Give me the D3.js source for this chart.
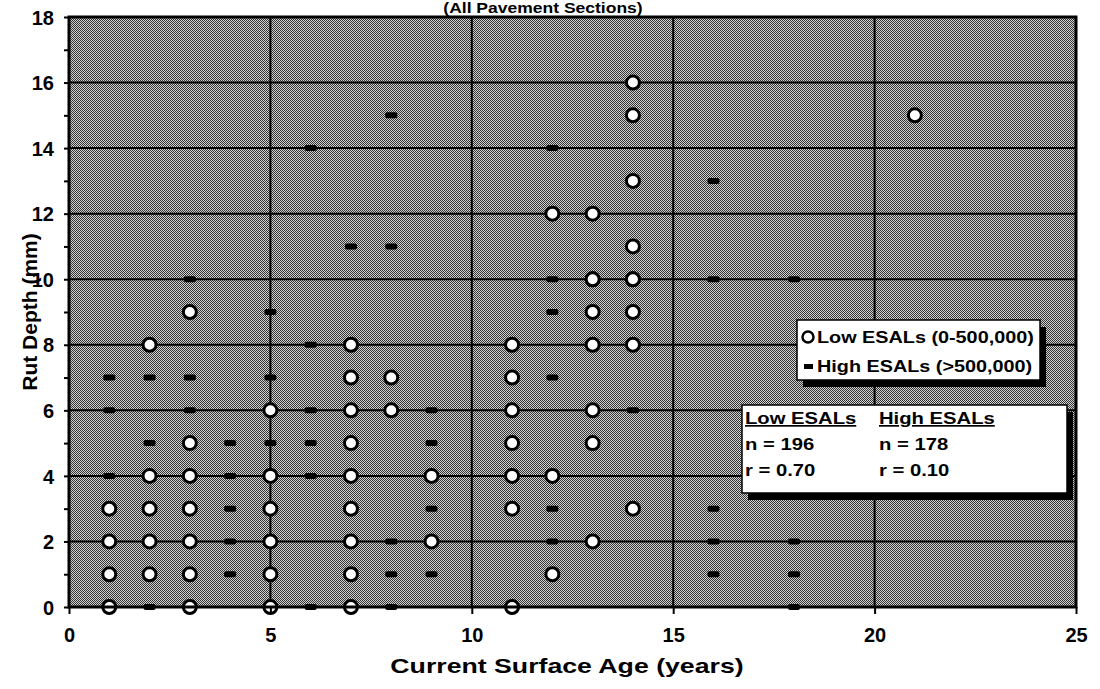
<!DOCTYPE html>
<html><head><meta charset="utf-8">
<script src="https://cdn.jsdelivr.net/npm/d3@7"></script>
<style>body{margin:0;background:#fff}svg{display:block}text{font-family:"Liberation Sans",Arial,sans-serif;font-weight:bold;fill:#000}</style>
</head><body><svg id="c" width="1100" height="689"></svg>
<script>
// Data (Age in years, Rut depth in mm)
const lowAge = [1,1,1,1, 2,2,2,2,2, 3,3,3,3,3,3,3, 5,5,5,5,5,5, 7,7,7,7,7,7,7,7,7, 8,8, 9,9, 11,11,11,11,11,11,11, 12,12,12, 13,13,13,13,13,13,13,13, 14,14,14,14,14,14,14,14,14, 21];
const lowRut = [0,1,2,3, 1,2,3,4,8, 0,1,2,3,4,5,9, 0,1,2,3,4,6, 0,1,2,3,4,5,6,7,8, 6,7, 2,4, 0,3,4,5,6,7,8, 1,4,12, 2,5,6,8,9,10,12,10, 3,8,9,10,11,13,15,16,10, 15];
const highAge = [1,1,1, 2,2,2, 3,3,3, 4,4,4,4,4, 5,5,5, 6,6,6,6,6, 7,8,8,8,8, 9,9,9,9, 12,12,12,12,12,12, 14, 16,16,16,16,16, 18,18,18,18, 3,8,2,6];
const highRut = [7,6,4, 7,5,0, 7,6,10, 5,4,3,2,1, 9,7,5, 8,6,5,14,0, 11,15,11,2,1, 6,5,3,1, 14,10,9,7,3,2, 6, 13,10,3,2,1, 10,2,1,0, 4,0,8,4];
const xTicks = [0,5,10,15,20,25];
const yTicks = [0,2,4,6,8,10,12,14,16,18];
const titleText = "(All Pavement Sections)";
const xLabel = "Current Surface Age (years)";
const yLabel = "Rut Depth (mm)";
const legendLabels = ["Low ESALs (0-500,000)", "High ESALs (>500,000)"];
const statHeads = ["Low ESALs", "High ESALs"];
const statN = [196, 178];
const statR = ["0.70", "0.10"];

const svg = d3.select("#c");
const x = d3.scaleLinear().domain([0,25]).range([69,1076]);
const y = d3.scaleLinear().domain([0,18]).range([607,17]);

function stretch(sel,k){
  sel.each(function(){
    const l=this.getComputedTextLength();
    d3.select(this).attr("textLength",l*k).attr("lengthAdjust","spacingAndGlyphs");
  });
}

const defs = svg.append("defs");
const pat = defs.append("pattern").attr("id","dots").attr("patternUnits","userSpaceOnUse").attr("width",2).attr("height",2);
pat.append("rect").attr("width",2).attr("height",2).attr("fill","#d2d2d2");
pat.append("rect").attr("width",1).attr("height",1).attr("fill","#333");
pat.append("rect").attr("x",1).attr("y",1).attr("width",1).attr("height",1).attr("fill","#333");

// plot background
svg.append("rect").attr("x",x(0)).attr("y",y(18)).attr("width",x(25)-x(0)).attr("height",y(0)-y(18)).attr("fill","url(#dots)");

// gridlines
svg.append("g").selectAll("line").data(yTicks.slice(1,-1)).join("line")
  .attr("x1",x(0)).attr("x2",x(25)).attr("y1",d=>y(d)).attr("y2",d=>y(d))
  .attr("stroke","#000").attr("stroke-width",2);
svg.append("g").selectAll("line").data(xTicks.slice(1,-1)).join("line")
  .attr("y1",y(0)).attr("y2",y(18)).attr("x1",d=>x(d)).attr("x2",d=>x(d))
  .attr("stroke","#000").attr("stroke-width",2);

// high ESAL dashes
const highPts = highAge.map((a,i)=>[a,highRut[i]]);
svg.append("g").selectAll("rect").data(highPts).join("rect")
  .attr("x",d=>x(d[0])-6).attr("y",d=>y(d[1])-3).attr("width",12).attr("height",6).attr("rx",2)
  .attr("fill","#000");

// low ESAL circles
const lowPts = lowAge.map((a,i)=>[a,lowRut[i]]);
svg.append("g").selectAll("circle").data(lowPts).join("circle")
  .attr("cx",d=>x(d[0])).attr("cy",d=>y(d[1])).attr("r",6.5)
  .attr("fill","#fff").attr("stroke","#000").attr("stroke-width",3);

// plot border
svg.append("rect").attr("x",x(0)).attr("y",y(18)).attr("width",x(25)-x(0)).attr("height",y(0)-y(18))
  .attr("fill","none").attr("stroke","#000").attr("stroke-width",3);

// axes
const yAxis = d3.axisLeft(y).tickValues(d3.range(0,19,1)).tickSize(5).tickFormat(d=>d%2===0?d:"");
const gy = svg.append("g").attr("transform",`translate(${x(0)},0)`).call(yAxis);
gy.select(".domain").remove();
gy.selectAll("line").attr("stroke","#000").attr("stroke-width",2);
gy.selectAll("text").attr("font-size",20).attr("font-family","Liberation Sans, Arial, sans-serif").attr("font-weight","bold").attr("x",-15).attr("dy","0.36em");

const xAxis = d3.axisBottom(x).tickValues(xTicks).tickSize(7).tickFormat(d3.format("d"));
const gx = svg.append("g").attr("transform",`translate(0,${y(0)})`).call(xAxis);
gx.select(".domain").remove();
gx.selectAll("line").attr("stroke","#000").attr("stroke-width",2);
gx.selectAll("text").attr("font-size",20).attr("font-family","Liberation Sans, Arial, sans-serif").attr("font-weight","bold").attr("y",21);

// titles
stretch(svg.append("text").attr("x",543).attr("y",13).attr("text-anchor","middle").attr("font-size",14).text(titleText),1.25);
stretch(svg.append("text").attr("x",567).attr("y",673).attr("text-anchor","middle").attr("font-size",21).text(xLabel),1.27);
svg.append("text").attr("transform","translate(37,312) rotate(-90)").attr("text-anchor","middle").attr("font-size",21).text(yLabel);

// boxes with drop shadow
function box(x0,y0,w,h){
  svg.append("rect").attr("x",x0+6).attr("y",y0+7).attr("width",w).attr("height",h).attr("fill","#000");
  svg.append("rect").attr("x",x0).attr("y",y0).attr("width",w).attr("height",h).attr("fill","#fff").attr("stroke","#000").attr("stroke-width",1.5);
}
box(797,320,243,60);
const lg = svg.append("g");
lg.append("circle").attr("cx",808).attr("cy",337).attr("r",5.5).attr("fill","#fff").attr("stroke","#000").attr("stroke-width",2.5);
lg.append("rect").attr("x",804).attr("y",364).attr("width",9).attr("height",5).attr("fill","#000");
stretch(lg.selectAll("text").data(legendLabels).join("text")
  .attr("x",817).attr("y",(d,i)=>343+i*29).attr("font-size",16.5).text(d=>d),1.2);

box(742,405,325,88);
const st = svg.append("g");
stretch(st.selectAll("text.h").data(statHeads).join("text").attr("class","h")
  .attr("x",(d,i)=>i?879:745).attr("y",424).attr("font-size",17).attr("text-decoration","underline").text(d=>d),1.19);
stretch(st.selectAll("text.n").data(statN).join("text").attr("class","n")
  .attr("x",(d,i)=>i?879:745).attr("y",450).attr("font-size",17).text(d=>"n = "+d),1.19);
stretch(st.selectAll("text.r").data(statR).join("text").attr("class","r")
  .attr("x",(d,i)=>i?879:745).attr("y",476).attr("font-size",17).text(d=>"r = "+d),1.19);
</script>
</body></html>
